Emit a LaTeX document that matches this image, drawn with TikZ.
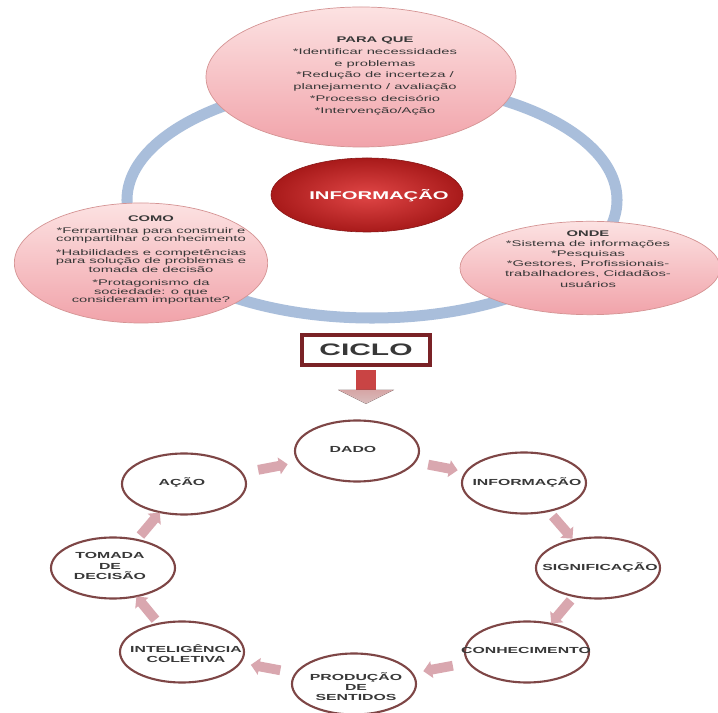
\documentclass[tikz,border=0pt]{standalone}
\usepackage{fontspec}
\setmainfont{Liberation Sans}[FakeStretch=1.8]
\usetikzlibrary{shapes.geometric,shapes.arrows,calc}
\definecolor{ringc}{HTML}{A9BEDB}
\definecolor{pinktop}{HTML}{FCE2E2}
\definecolor{pinkbot}{HTML}{F1A3AA}
\definecolor{pinkline}{HTML}{D59494}
\definecolor{redin}{HTML}{E04646}
\definecolor{redout}{HTML}{A81A1A}
\definecolor{txtc}{HTML}{383838}
\definecolor{cycline}{HTML}{7E4646}
\definecolor{arrc}{HTML}{D9A7AF}
\definecolor{cicloc}{HTML}{7A2226}
\definecolor{shaftc}{HTML}{C94444}
\definecolor{headc}{HTML}{D9BDBD}
\tikzset{
  pinkell/.style={ellipse, draw=pinkline, line width=0.6pt, top color=pinktop, bottom color=pinkbot, inner sep=0pt},
  bodytxt/.style={align=center, text=txtc, font=\fontsize{7}{#1}\selectfont, inner sep=0pt},
  cyc/.style={ellipse, draw=cycline, line width=1.8pt, fill=white, minimum width=3.72cm, minimum height=1.83cm, inner sep=0pt},
  cyctxt/.style={align=center, text=txtc, font=\bfseries\fontsize{7.5}{8.6}\selectfont, inner sep=0pt},
  cycarr/.style={single arrow, fill=arrc, draw=none, minimum height=0.9cm, inner xsep=0pt, inner ysep=0.14cm, single arrow head extend=0.11cm, sloped, allow upside down},
}
\begin{document}
\begin{tikzpicture}[x=0.03cm,y=-0.03cm]
\useasboundingbox[fill=white] (0,0) rectangle (718,713);

% ring
\draw[ringc, line width=9.4pt] (372,200) ellipse [x radius=7.35cm, y radius=3.54cm];

% top ellipses
\node[pinkell, minimum width=9.3cm, minimum height=4.2cm] (pq) at (361,77) {};
\node[bodytxt=10.2] (pqt) at (375,76) {\textbf{PARA QUE}\\*Identificar necessidades\\e problemas\\*Redução de incerteza /\\planejamento / avaliação\\*Processo decisório\\*Intervenção/Ação};

\node[ellipse, draw=redout!80!black, line width=0.5pt, inner color=redin, outer color=redout, minimum width=5.76cm, minimum height=2.22cm, inner sep=0pt] (info) at (367,195) {};
\node[text=white, font=\bfseries\fontsize{9.6}{11}\selectfont, inner sep=0pt] (infot) at (379,196) {INFORMAÇÃO};

\node[pinkell, minimum width=7.6cm, minimum height=3.6cm] (como) at (141,263) {};
\node[bodytxt=7.3] (comot) at (151,260) {\textbf{COMO}\\[3pt]*Ferramenta para construir e\\compartilhar o conhecimento\\[4pt]*Habilidades e competências\\para solução de problemas e\\tomada de decisão\\[4pt]*Protagonismo da\\sociedade: o que\\consideram importante?};

\node[pinkell, minimum width=7.8cm, minimum height=2.8cm] (onde) at (590,268) {};
\node[bodytxt=8.6] (ondet) at (588,259) {\textbf{ONDE}\\*Sistema de informações\\*Pesquisas\\*Gestores, Profissionais-\\trabalhadores, Cidadãos-\\usuários};

% CICLO box
\node[draw=cicloc, line width=3pt, minimum width=3.84cm, minimum height=0.9cm, inner sep=0pt, text=txtc, font=\bfseries\fontsize{14.2}{16}\selectfont] (ciclo) at (366,350) {CICLO};
\fill[shaftc] ($(ciclo.south)+(-10,3)$) rectangle ($(ciclo.south)+(10,23)$);
\fill[top color=headc!80!shaftc, bottom color=headc] ($(ciclo.south)+(-28,23)$) -- ($(ciclo.south)+(28,23)$) -- ($(ciclo.south)+(0,37)$) -- cycle;

% cycle
\node[cyc] (dado) at (357,451) {};
\node[cyctxt] at (353,449) {DADO};
\node[cyc] (inf2) at (524,483) {};
\node[cyctxt] at (527,483) {INFORMAÇÃO};
\node[cyc] (sig) at (598,568) {};
\node[cyctxt] at (600,568) {SIGNIFICAÇÃO};
\node[cyc] (con) at (527,652) {};
\node[cyctxt] at (526,650) {CONHECIMENTO};
\node[cyc] (prod) at (354,684) {};
\node[cyctxt] at (356,687) {PRODUÇÃO\\DE\\SENTIDOS};
\node[cyc] (intel) at (182,652) {};
\node[cyctxt] at (186,654) {INTELIGÊNCIA\\COLETIVA};
\node[cyc] (tom) at (113,568) {};
\node[cyctxt] at (110,566) {TOMADA\\DE\\DECISÃO};
\node[cyc] (acao) at (184,484) {};
\node[cyctxt] at (182,483) {AÇÃO};

\path (acao) -- node[cycarr] {} (dado);
\path (dado) -- node[cycarr] {} (inf2);
\path (inf2) -- node[cycarr] {} (sig);
\path (sig) -- node[cycarr] {} (con);
\path (con) -- node[cycarr] {} (prod);
\path (prod) -- node[cycarr] {} (intel);
\path (intel) -- node[cycarr] {} (tom);
\path (tom) -- node[cycarr] {} (acao);
\end{tikzpicture}
\end{document}
